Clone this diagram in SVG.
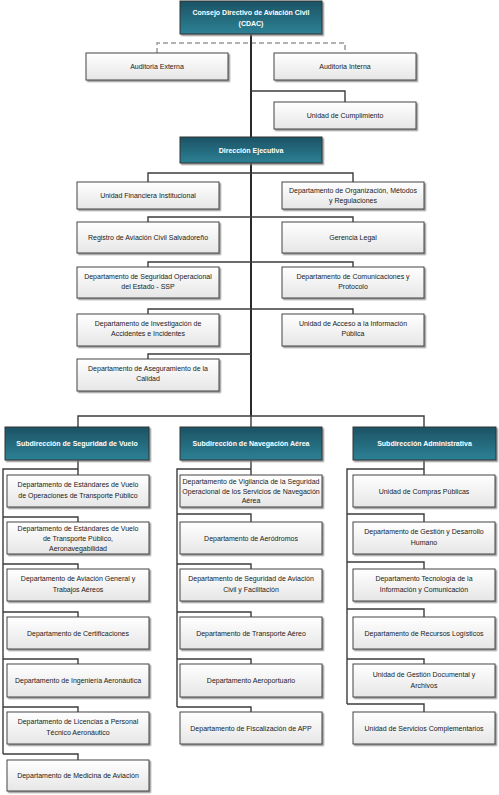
<svg xmlns="http://www.w3.org/2000/svg" width="499" height="795" viewBox="0 0 499 795">
<defs>
<linearGradient id="gT" x1="0" y1="0" x2="0" y2="1"><stop offset="0" stop-color="#1c5264"/><stop offset="1" stop-color="#2d8195"/></linearGradient>
<linearGradient id="gW" x1="0" y1="0" x2="0" y2="1"><stop offset="0" stop-color="#ffffff"/><stop offset="1" stop-color="#e6e6e6"/></linearGradient>
<filter id="sh" x="-10%" y="-10%" width="125%" height="140%"><feDropShadow dx="1.5" dy="1.5" stdDeviation="0.7" flood-color="#7a7a7a" flood-opacity="0.8"/></filter>
<style>
.t rect{fill:url(#gT);stroke:#333;stroke-width:1;filter:url(#sh)}
.t text{fill:#fff;font-weight:bold}
.w rect{fill:url(#gW);stroke:#444;stroke-width:1;filter:url(#sh)}
.w text{fill:#1a1a1a}
text{font-family:"Liberation Sans",Arial,sans-serif;font-size:7px;text-anchor:middle}
.c path{fill:none;stroke:#3c3c3c;stroke-width:1.4}
.c .tr{stroke:#2a2a2a;stroke-width:2}
.c .ds{stroke:#999;stroke-width:1.5;stroke-dasharray:5,3}
</style>
</defs>
<rect width="499" height="795" fill="#fff"/>
<g class="c" id="connectors">
<path class="ds" d="M157,53V43H345V53"/>
<path class="tr" d="M251,34V137M251,163V416"/>
<path d="M251,91H345V102"/>
<path d="M148,182V173H353V182M148,222V217H353V222M148,267V262H353V267M148,314V309H353V314M148,359V354H251"/>
<path d="M78,427V416H424V427M251,416V427"/>
<path d="M78,460V469H3V754M78,469V475M3,517H78V522M3,564H78V569M3,612H78V617M3,659H78V664M3,707H78V712M3,754H78V760"/>
<path d="M251,460V469H177V707M251,469V475M177,514H251V522M177,564H251V569M177,612H251V617M177,659H251V664M177,707H251V712"/>
<path d="M424,460V469H347V704M424,469V475M347,514H424V522M347,562H424V569M347,609H424V617M347,659H424V664M347,704H424V712"/>
</g>
<g id="cdac" class="t"><rect x="180" y="1" width="142" height="33"/><text x="251" y="15">Consejo Directivo de Aviación Civil</text><text x="251" y="26">(CDAC)</text></g>
<g id="ae" class="w"><rect x="86" y="53" width="142" height="27"/><text x="157" y="69">Auditoria Externa</text></g>
<g id="ai" class="w"><rect x="274" y="53" width="142" height="27"/><text x="345" y="69">Auditoria Interna</text></g>
<g id="uc" class="w"><rect x="274" y="102" width="142" height="27"/><text x="345" y="118">Unidad de Cumplimiento</text></g>
<g id="de" class="t"><rect x="180" y="137" width="142" height="26"/><text x="251" y="152.5">Dirección Ejecutiva</text></g>
<g id="ufi" class="w"><rect x="77" y="182" width="142" height="27"/><text x="148" y="198">Unidad Financiera Institucional</text></g>
<g id="dom" class="w"><rect x="282" y="182" width="142" height="27"/><text x="353" y="193">Departamento de Organización, Métodos</text><text x="353" y="203">y Regulaciones</text></g>
<g id="rac" class="w"><rect x="77" y="222" width="142" height="31"/><text x="148" y="240">Registro de Aviación Civil Salvadoreño</text></g>
<g id="gl" class="w"><rect x="282" y="222" width="142" height="31"/><text x="353" y="240">Gerencia Legal</text></g>
<g id="dso" class="w"><rect x="77" y="267" width="142" height="31"/><text x="148" y="279">Departamento de Seguridad Operacional</text><text x="148" y="289">del Estado - SSP</text></g>
<g id="dcp" class="w"><rect x="282" y="267" width="142" height="31"/><text x="353" y="279">Departamento de Comunicaciones y</text><text x="353" y="289">Protocolo</text></g>
<g id="dia" class="w"><rect x="77" y="314" width="142" height="32"/><text x="148" y="326">Departamento de Investigación de</text><text x="148" y="336">Accidentes e Incidentes</text></g>
<g id="uai" class="w"><rect x="282" y="314" width="142" height="32"/><text x="353" y="326">Unidad de Acceso a la Información</text><text x="353" y="336">Pública</text></g>
<g id="dac" class="w"><rect x="77" y="359" width="142" height="32"/><text x="148" y="371">Departamento de Aseguramiento de la</text><text x="148" y="381">Calidad</text></g>
<g id="ssv" class="t"><rect x="5" y="427" width="144" height="33"/><text x="77" y="446">Subdirección de Seguridad de Vuelo</text></g>
<g id="sna" class="t"><rect x="180" y="427" width="142" height="33"/><text x="251" y="446">Subdirección de Navegación Aérea</text></g>
<g id="sad" class="t"><rect x="353" y="427" width="143" height="33"/><text x="424.5" y="446">Subdirección Administrativa</text></g>
<g id="v1" class="w"><rect x="7" y="475" width="142" height="32"/><text x="78" y="487">Departamento de Estándares de Vuelo</text><text x="78" y="498">de Operaciones de Transporte Público</text></g>
<g id="v2" class="w"><rect x="7" y="522" width="142" height="32"/><text x="78" y="531">Departamento de Estándares de Vuelo</text><text x="78" y="541">de Transporte Público,</text><text x="78" y="550.5">Aeronavegabilidad</text></g>
<g id="v3" class="w"><rect x="7" y="569" width="142" height="32"/><text x="78" y="581">Departamento de Aviación General y</text><text x="78" y="592">Trabajos Aéreos</text></g>
<g id="v4" class="w"><rect x="7" y="617" width="142" height="32"/><text x="78" y="635.5">Departamento de Certificaciones</text></g>
<g id="v5" class="w"><rect x="7" y="664" width="142" height="33"/><text x="78" y="683">Departamento de Ingeniería Aeronáutica</text></g>
<g id="v6" class="w"><rect x="7" y="712" width="142" height="32"/><text x="78" y="724">Departamento de Licencias a Personal</text><text x="78" y="735">Técnico Aeronáutico</text></g>
<g id="v7" class="w"><rect x="7" y="760" width="142" height="31"/><text x="78" y="778">Departamento de Medicina de Aviación</text></g>
<g id="n1" class="w"><rect x="180" y="475" width="142" height="32"/><text x="251" y="484">Departamento de Vigilancia de la Seguridad</text><text x="251" y="493.5">Operacional de los Servicios de Navegación</text><text x="251" y="503">Aérea</text></g>
<g id="n2" class="w"><rect x="180" y="522" width="142" height="32"/><text x="251" y="540.5">Departamento de Aeródromos</text></g>
<g id="n3" class="w"><rect x="180" y="569" width="142" height="32"/><text x="251" y="581">Departamento de  Seguridad de Aviación</text><text x="251" y="592">Civil y Facilitación</text></g>
<g id="n4" class="w"><rect x="180" y="617" width="142" height="32"/><text x="251" y="635.5">Departamento de Transporte Aéreo</text></g>
<g id="n5" class="w"><rect x="180" y="664" width="142" height="33"/><text x="251" y="683">Departamento Aeroportuario</text></g>
<g id="n6" class="w"><rect x="180" y="712" width="142" height="32"/><text x="251" y="730.5">Departamento de Fiscalización de APP</text></g>
<g id="a1" class="w"><rect x="353" y="475" width="142" height="32"/><text x="424" y="493.5">Unidad de Compras Públicas</text></g>
<g id="a2" class="w"><rect x="353" y="522" width="142" height="32"/><text x="424" y="534">Departamento de Gestión y Desarrollo</text><text x="424" y="545">Humano</text></g>
<g id="a3" class="w"><rect x="353" y="569" width="142" height="32"/><text x="424" y="581">Departamento Tecnología de la</text><text x="424" y="592">Información y Comunicación</text></g>
<g id="a4" class="w"><rect x="353" y="617" width="142" height="32"/><text x="424" y="635.5">Departamento de Recursos Logísticos</text></g>
<g id="a5" class="w"><rect x="353" y="664" width="142" height="33"/><text x="424" y="677">Unidad de Gestión Documental y</text><text x="424" y="688">Archivos</text></g>
<g id="a6" class="w"><rect x="353" y="712" width="142" height="32"/><text x="424" y="730.5">Unidad de Servicios Complementarios</text></g>
</svg>
